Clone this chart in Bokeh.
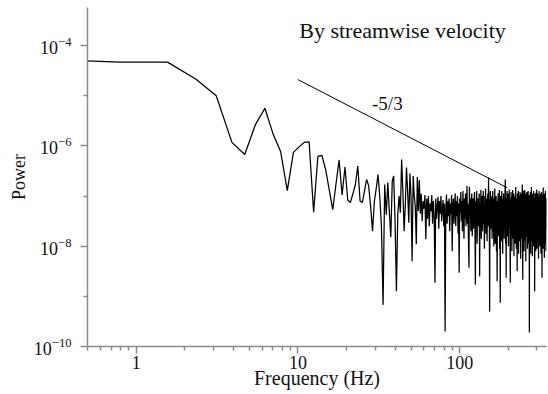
import numpy as np
from bokeh.plotting import figure
from bokeh.models import FixedTicker, LogTickFormatter, Label
from bokeh.embed import file_html
from bokeh.resources import INLINE

# frequency resolution of the spectrum (Hz)
df_hz = 0.78125

# log10(power): first value at 0.39 Hz, then k * df_hz, k = 1..440
power_exp = [
    -4.29,
    -4.33, -4.33, -4.67, -5.00, -5.93, -6.17, -5.57, -5.25, -5.77, -6.11, -6.89, -6.13,
    -6.02, -5.93, -5.92, -7.32, -6.21, -6.19, -6.48, -6.88, -7.27, -6.76, -6.28, -6.98, -6.42, -7.08, -7.13,
    -6.95, -6.77, -6.40, -7.10, -7.13, -6.90, -6.67, -6.79, -7.20, -7.70, -7.10, -6.85, -6.57,
    -7.00, -7.60, -9.17, -6.77, -7.37, -6.73, -7.30, -7.82, -6.70, -6.60, -7.50, -8.90, -7.37, -7.00, -7.33,
    -6.27, -6.90, -7.70, -7.20, -6.43, -6.90, -7.53, -6.55, -7.00, -8.30, -6.60, -7.00, -7.20, -7.96, -6.62, -7.30, -6.68,
    -7.35, -6.95, -7.50, -7.10, -7.25, -6.98, -7.86, -7.05, -7.45, -7.00, -7.60, -7.15, -7.30, -6.98, -7.55, -7.10, -7.40, -8.73,
    -7.05, -7.45, -7.20, -7.02, -7.65, -7.10, -7.35, -7.00, -7.50, -7.25, -7.08, -7.60, -7.15, -9.70, -7.30, -6.97, -7.55, -7.10, -7.40, -7.05,
    -7.70, -7.15, -7.35, -6.98, -8.10, -7.20, -7.05, -7.55, -7.25, -6.95, -7.60, -7.10, -7.40, -7.00, -7.75, -7.15, -8.53, -7.05, -7.35, -6.92,
    -7.50, -7.10, -7.70, -6.90, -7.30, -7.85, -7.05, -7.45, -6.95, -7.60, -7.20, -6.80, -7.55, -7.15, -7.90, -8.43, -6.82, -7.40, -7.05, -7.70,
    -7.20, -6.95, -7.80, -7.30, -7.05, -7.65, -7.15, -6.92, -7.50, -8.77, -7.10, -7.40, -6.90, -7.95, -7.25, -7.05, -7.60, -7.20, -6.95, -8.60,
    -7.15, -7.50, -6.88, -7.85, -7.30, -7.00, -7.70, -7.20, -6.90, -7.55, -7.35, -8.05, -7.00, -7.45, -6.85,
    -7.75, -7.25, -7.05, -7.90, -7.15, -6.95, -7.60, -6.63, -7.40, -7.10, -9.30, -7.20, -6.90, -7.65, -7.30,
    -7.60, -7.00, -7.85, -7.20, -6.90, -7.70, -7.35, -8.00, -7.05, -7.50, -6.85, -7.95, -7.25, -7.60, -7.00, -8.10, -7.30, -8.70, -7.10, -7.55,
    -6.95, -7.80, -7.20, -7.45, -6.88, -8.05, -7.35, -9.13, -7.00, -7.65, -7.15, -7.90, -6.90, -7.50, -7.25, -8.15, -7.05, -7.70, -6.95, -7.40,
    -7.85, -7.10, -7.55, -6.92, -6.67, -7.95, -7.20, -8.63, -7.05, -7.60, -6.90, -7.80, -7.30, -7.45, -6.95, -8.00, -7.15, -7.65, -6.87, -7.50,
    -7.25, -7.90, -8.73, -7.05, -7.55, -6.92, -7.75, -7.20, -8.10, -7.00, -7.60, -6.88, -7.85, -7.30, -7.50, -6.95, -8.20, -7.10, -7.70, -7.00,
    -7.45, -7.95, -7.15, -6.82, -7.65, -7.30, -8.05, -7.05, -7.55, -8.50, -6.95, -7.80, -7.20, -7.45, -6.90, -8.15, -7.35, -7.60, -7.00, -7.90,
    -7.25, -6.92, -7.70, -7.10, -8.25, -7.40, -6.95, -7.85, -7.20, -7.55, -7.05, -6.77, -7.95, -8.67, -7.15, -7.60, -6.90, -7.75, -7.30, -8.10,
    -7.00, -7.50, -6.88, -7.90, -7.25, -7.65, -6.95, -8.30, -7.15, -7.45, -7.00, -7.80, -6.92, -7.60, -7.35, -8.05, -7.10, -7.70, -6.90, -7.50,
    -7.95, -7.20, -7.55, -6.98, -9.72, -7.30, -7.05, -7.85, -7.40, -6.92, -7.65, -8.15, -7.10, -7.50, -6.82, -7.90, -7.25, -7.70, -7.00, -8.20,
    -7.35, -6.95, -7.60, -7.15, -8.00, -7.45, -6.90, -7.80, -7.20, -7.55, -7.05, -8.90, -7.30, -7.70, -6.95, -7.85, -7.25, -8.10, -7.00, -7.60,
    -6.92, -7.75, -6.87, -7.40, -8.05, -7.15, -7.55, -6.95, -7.90, -7.30, -7.65, -7.00, -8.25, -7.20, -7.50, -6.90, -7.85, -7.35, -7.05, -7.70,
    -8.00, -7.10, -7.45, -6.95, -7.80, -7.25, -8.15, -7.00, -7.60, -6.92, -7.35, -7.90, -8.63, -7.15, -7.55, -6.98, -7.75, -7.30, -8.05, -6.83,
    -7.50, -7.20, -7.85, -7.05, -7.60, -6.95, -8.23, -7.40, -7.70, -7.00, -7.95, -7.25, -7.55, -6.90, -7.80, -7.15, -8.10, -7.35, -7.65, -7.05,
]

freq_hz = np.concatenate(([0.39], df_hz * np.arange(1, len(power_exp))))
power = 10.0 ** np.array(power_exp)

# -5/3 reference slope
slope_freq = [10.0, 196.0]
slope_power = [2.1e-5, 1.47e-7]

x_major = [1, 10, 100]
x_minor = [0.5, 0.6, 0.7, 0.8, 0.9, 2, 3, 4, 5, 6, 7, 8, 9,
           20, 30, 40, 50, 60, 70, 80, 90, 200, 300]
y_major = [1e-10, 1e-8, 1e-6, 1e-4]
y_minor = [1e-9, 1e-7, 1e-5]

title_text = "By streamwise velocity"
slope_text = "-5/3"
x_title = "Frequency (Hz)"
y_title = "Power"

SERIF = "'Liberation Serif', 'Times New Roman', Times, serif"
AXIS_GRAY = "#8a8a8a"
TXT = "#111111"

p = figure(width=548, height=394, x_axis_type="log", y_axis_type="log",
           x_range=(0.5, 344), y_range=(1e-10, 5.75e-4),
           output_backend="svg", toolbar_location=None,
           min_border_left=87, min_border_right=2,
           min_border_top=7, min_border_bottom=48)
p.outline_line_color = None
p.grid.visible = False
p.background_fill_color = "white"
p.border_fill_color = "white"

for ax in (p.xaxis[0], p.yaxis[0]):
    ax.axis_line_color = AXIS_GRAY
    ax.axis_line_width = 1.5
    ax.major_tick_line_color = AXIS_GRAY
    ax.major_tick_line_width = 1.5
    ax.minor_tick_line_color = AXIS_GRAY
    ax.minor_tick_line_width = 1.5
    ax.major_tick_in = 0
    ax.major_tick_out = 7
    ax.minor_tick_in = 0
    ax.minor_tick_out = 4
    ax.major_label_text_font = SERIF
    ax.major_label_text_font_size = "18px"
    ax.major_label_text_color = TXT
    ax.axis_label_text_font = SERIF
    ax.axis_label_text_font_style = "normal"
    ax.axis_label_text_color = TXT

xa = p.xaxis[0]
xa.ticker = FixedTicker(ticks=x_major, minor_ticks=x_minor)
xa.formatter = LogTickFormatter(min_exponent=3)
xa.major_label_standoff = 2
xa.axis_label = x_title
xa.axis_label_text_font_size = "20px"
xa.axis_label_standoff = -5

ya = p.yaxis[0]
ya.ticker = FixedTicker(ticks=y_major, minor_ticks=y_minor)
ya.formatter = LogTickFormatter()
ya.major_label_standoff = 9
ya.axis_label = y_title
ya.axis_label_text_font_size = "18px"
ya.axis_label_standoff = 2

p.line(freq_hz, power, line_color="black", line_width=1.25)
p.line(slope_freq, slope_power, line_color="black", line_width=1)

p.add_layout(Label(x=44.3, y=2.0e-4, text=title_text, text_align="center",
                   text_baseline="alphabetic", text_font=SERIF,
                   text_font_size="22px", text_color=TXT))
p.add_layout(Label(x=35.7, y=7.15e-6, text=slope_text, text_align="center",
                   text_baseline="alphabetic", text_font=SERIF,
                   text_font_size="19px", text_color=TXT))

open("out.html", "w").write(file_html(p, INLINE))
